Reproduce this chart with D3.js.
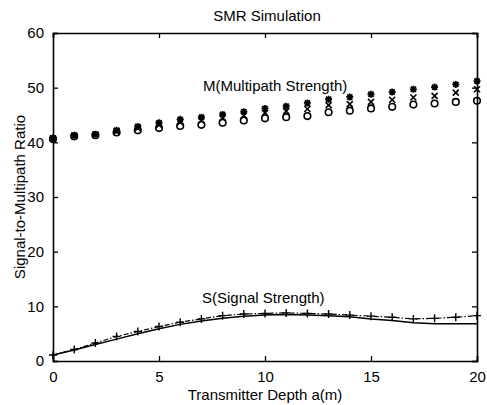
<!DOCTYPE html>
<html>
<head>
<meta charset="utf-8">
<script src="https://cdn.jsdelivr.net/npm/d3@7"></script>
<style>
html,body{margin:0;padding:0;background:#fff;}
svg text{font-family:"Liberation Sans",Arial,Helvetica,sans-serif;fill:#000;}
</style>
</head>
<body>
<svg id="chart" width="487" height="405"></svg>
<script>
// ---- data ----
const depth = [0,1,2,3,4,5,6,7,8,9,10,11,12,13,14,15,16,17,18,19,20];
const mStar = [40.8,41.3,41.5,42.2,42.9,43.6,44.2,44.6,45.1,45.6,46.2,46.6,47.2,47.9,48.3,48.8,49.2,49.7,50.1,50.6,51.2];
const mCross = [40.7,41.2,41.4,42.0,42.6,43.2,43.7,44.0,44.5,44.9,45.4,45.7,46.1,46.8,47.0,47.4,47.8,48.2,48.5,49.1,49.7];
const mCircle = [40.6,41.1,41.3,41.8,42.2,42.6,43.0,43.2,43.6,44.0,44.4,44.6,44.8,45.5,45.8,46.2,46.5,46.9,47.1,47.4,47.6];
const sPlus = [1.1,2.1,3.3,4.5,5.4,6.3,7.1,7.7,8.3,8.6,8.7,8.8,8.7,8.6,8.4,8.2,8.0,7.7,7.8,8.0,8.3];
const sLine = [1.1,2.0,3.0,4.0,5.0,5.9,6.7,7.3,7.8,8.2,8.4,8.5,8.4,8.3,8.1,7.7,7.4,7.0,6.8,6.8,6.8];
const xTicks = [0,5,10,15,20];
const yTicks = [0,10,20,30,40,50,60];
const titleText = "SMR Simulation";
const xLabel = "Transmitter Depth a(m)";
const yLabel = "Signal-to-Multipath Ratio";
const mLabel = "M(Multipath Strength)";
const sLabel = "S(Signal Strength)";

// ---- layout ----
const W = 487, H = 405;
const m = {left:53, right:10, top:33, bottom:44};
const svg = d3.select("#chart");
const x = d3.scaleLinear().domain([0,20]).range([m.left, W - m.right]);
const y = d3.scaleLinear().domain([0,60]).range([H - m.bottom, m.top]);
const fs = 15;

// axes (ticks inside, box)
const tk = 5;
const gB = svg.append("g").attr("transform",`translate(0,${y(0)})`)
  .call(d3.axisBottom(x).tickValues(xTicks).tickSize(-tk).tickPadding(tk+5).tickFormat(d3.format("d")));
const gT = svg.append("g").attr("transform",`translate(0,${y(60)})`)
  .call(d3.axisTop(x).tickValues(xTicks).tickSize(-tk).tickFormat(""));
const gL = svg.append("g").attr("transform",`translate(${x(0)},0)`)
  .call(d3.axisLeft(y).tickValues(yTicks).tickSize(-tk).tickPadding(tk+4).tickFormat(d3.format("d")));
const gR = svg.append("g").attr("transform",`translate(${x(20)},0)`)
  .call(d3.axisRight(y).tickValues(yTicks).tickSize(-tk).tickFormat(""));
[gB,gT,gL,gR].forEach(g=>{
  g.select(".domain").attr("stroke","#000").attr("stroke-width",1.6);
  g.selectAll(".tick line").attr("stroke","#000").attr("stroke-width",1.3);
  g.selectAll("text").attr("font-size",fs).attr("font-family",null).attr("fill","#000");
});

// S curves
const line = (vals) => d3.line().x((d,i)=>x(depth[i])).y(d=>y(d))(vals);
svg.append("path").attr("d", line(sLine)).attr("fill","none").attr("stroke","#000").attr("stroke-width",1.5);
svg.append("path").attr("d", line(sPlus)).attr("fill","none").attr("stroke","#000").attr("stroke-width",1.2)
  .attr("stroke-dasharray","5,2,1.5,2");

// markers
const plusPath = "M-4,0H4M0,-4V4";
const crossPath = "M-3,-3L3,3M-3,3L3,-3";
const starPath = "M-3.5,0H3.5M0,-3.5V3.5M-2.6,-2.6L2.6,2.6M-2.6,2.6L2.6,-2.6";
function markers(vals, pathStr, sw){
  svg.append("g").selectAll("path").data(vals).join("path")
    .attr("transform",(d,i)=>`translate(${x(depth[i])},${y(d)})`)
    .attr("d", pathStr).attr("fill","none").attr("stroke","#000").attr("stroke-width",sw);
}
markers(sPlus, plusPath, 1.4);
svg.append("g").selectAll("circle").data(mCircle).join("circle")
  .attr("cx",(d,i)=>x(depth[i])).attr("cy",d=>y(d)).attr("r",3.3)
  .attr("fill","none").attr("stroke","#000").attr("stroke-width",1.6);
markers(mCross, crossPath, 1.6);
markers(mStar, starPath, 1.8);

// texts
svg.append("text").attr("x", (x(0)+x(20))/2 + 2).attr("y", 21).attr("text-anchor","middle").attr("font-size",fs).text(titleText);
svg.append("text").attr("x", (x(0)+x(20))/2).attr("y", 400).attr("text-anchor","middle").attr("font-size",fs).text(xLabel);
svg.append("text").attr("transform",`translate(25,${(y(0)+y(60))/2}) rotate(-90)`).attr("text-anchor","middle").attr("font-size",fs).text(yLabel);
svg.append("text").attr("x", 203).attr("y", 91).attr("font-size",fs).text(mLabel);
svg.append("text").attr("x", 202).attr("y", 303).attr("font-size",fs).text(sLabel);
</script>
</body>
</html>
